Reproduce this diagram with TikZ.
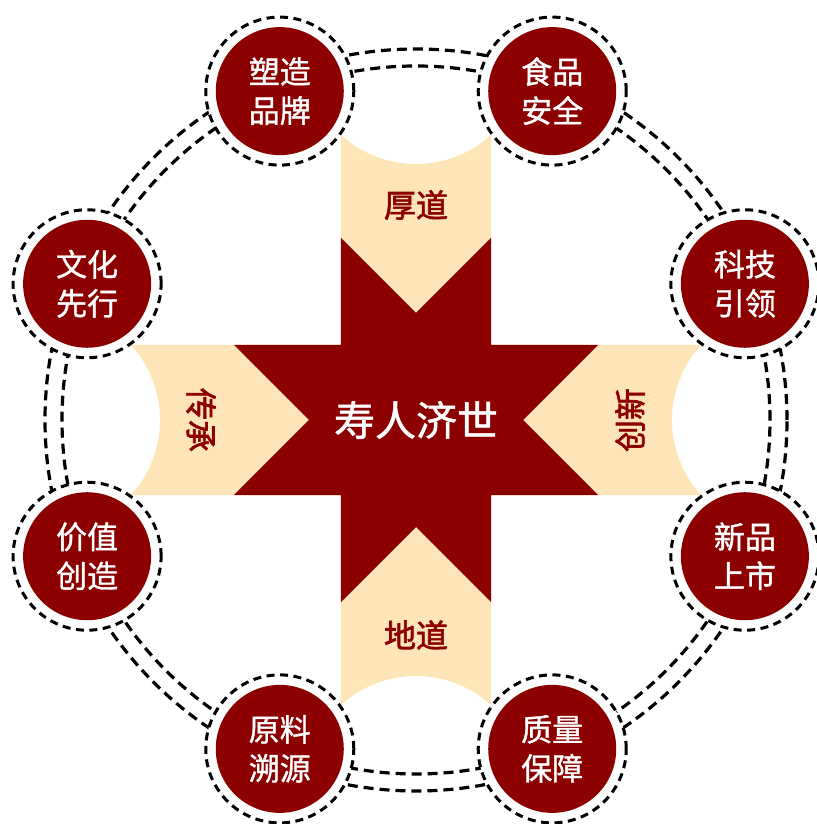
\documentclass[tikz,border=0pt]{standalone}
\usepackage{fontspec}
\newfontfamily\cjk{Noto Sans CJK SC}
\newfontfamily\cjkm[FakeBold=1.2]{Noto Sans CJK SC}
\newfontfamily\cjkb[FakeBold=2]{Noto Sans CJK SC}
\definecolor{dred}{RGB}{140,0,0}
\definecolor{cream}{RGB}{253,229,184}
\tikzset{
  ringline/.style={draw=black,line width=3.2pt,dash pattern=on 10pt off 6pt},
  halo/.style={circle,draw=black,fill=white,line width=3pt,dash pattern=on 8pt off 5.5pt,minimum size=148pt,inner sep=0pt},
  bubble/.style={circle,fill=dred,minimum size=128pt,inner sep=0pt,text=white,align=center,
    font=\cjkm\fontsize{31}{39}\selectfont},
  bandlabel/.style={text=dred,font=\cjkb\fontsize{32}{36}\selectfont,inner sep=0pt},
  centerlabel/.style={text=white,font=\cjkm\fontsize{41}{44}\selectfont,inner sep=0pt}
}
\begin{document}
\begin{tikzpicture}[x=1pt,y=1pt]
\useasboundingbox (-416,-404) rectangle (400,420);
% cream bands
\fill[cream] (-75,285) arc[start angle=227.7,end angle=312.3,radius=111.5]
  -- (75,-285) arc[start angle=47.7,end angle=132.3,radius=111.5] -- cycle;
\fill[cream] (285,75) arc[start angle=137.7,end angle=222.3,radius=111.5]
  -- (-285,-75) arc[start angle=-42.3,end angle=42.3,radius=111.5] -- cycle;
% dark cross
\fill[dred] (-75,182) -- (0,107) -- (75,182) -- (75,75) -- (182,75) -- (107,0)
  -- (182,-75) -- (75,-75) -- (75,-182) -- (0,-107) -- (-75,-182) -- (-75,-75)
  -- (-182,-75) -- (-107,0) -- (-182,75) -- (-75,75) -- cycle;
\node[centerlabel] (core) at (0,0) {寿人济世};
\node[bandlabel] (top) at (0,215) {厚道};
\node[bandlabel] (bottom) at (0,-215) {地道};
\node[bandlabel,rotate=-90] (left) at (-215,0) {传承};
\node[bandlabel,rotate=90] (right) at (214,0) {创新};
% rings
\draw[ringline] (0,0) circle[radius=354];
\draw[ringline] (0,0) circle[radius=371];
% bubbles
\foreach \a/\n/\t in {22.5/c1/{科技\\引领},67.5/c2/{食品\\安全},112.5/c3/{塑造\\品牌},
  157.5/c4/{文化\\先行},202.5/c5/{价值\\创造},247.5/c6/{原料\\溯源},
  292.5/c7/{质量\\保障},337.5/c8/{新品\\上市}}{
  \node[halo] (o\n) at (\a:356) {};
  \node[bubble] (\n) at (\a:356) {\t};
}
\end{tikzpicture}
\end{document}
